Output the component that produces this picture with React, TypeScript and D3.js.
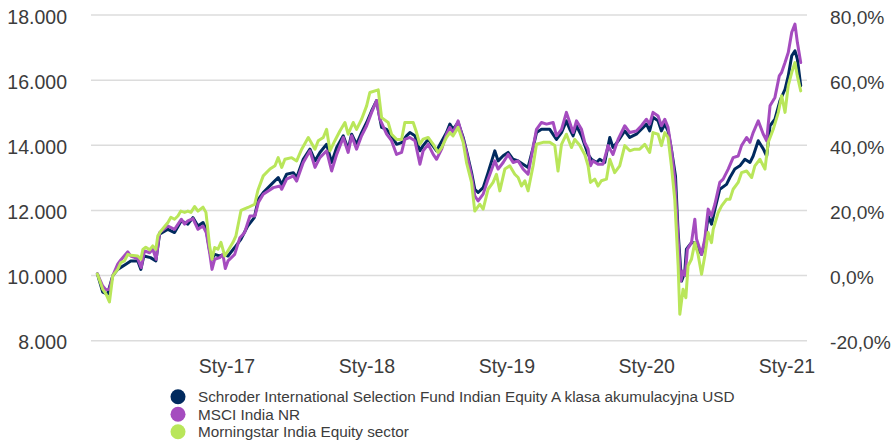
import React from "react";
import * as d3 from "d3";

// ---- data (decimal year, value of 10 000 invested) ----
const schroder: [number, number][] = [
  [2016.076, 10050], [2016.114, 9490], [2016.148, 9430], [2016.186, 10000], [2016.221, 10190],
  [2016.279, 10350], [2016.314, 10450], [2016.364, 10450], [2016.386, 10190], [2016.407, 10600],
  [2016.455, 10550], [2016.493, 10450], [2016.519, 11270], [2016.579, 11420], [2016.626, 11320],
  [2016.674, 11680], [2016.721, 11580], [2016.757, 11780], [2016.793, 11520], [2016.829, 11630],
  [2016.852, 11420], [2016.876, 10760], [2016.893, 10500], [2016.912, 10650], [2016.948, 10600],
  [2016.981, 10650], [2017.007, 10600], [2017.055, 10860], [2017.100, 11120], [2017.148, 11520],
  [2017.195, 11780], [2017.224, 12340], [2017.259, 12550], [2017.331, 12860], [2017.366, 13010],
  [2017.391, 12800], [2017.426, 13110], [2017.474, 13160], [2017.498, 13010], [2017.545, 13570],
  [2017.593, 13880], [2017.629, 13520], [2017.664, 13780], [2017.712, 14030], [2017.748, 13470],
  [2017.784, 13930], [2017.831, 14290], [2017.866, 13880], [2017.891, 14340], [2017.926, 14030],
  [2017.962, 14390], [2017.998, 14700], [2018.034, 15060], [2018.069, 15370], [2018.105, 14550],
  [2018.141, 14490], [2018.176, 14290], [2018.212, 14030], [2018.248, 14080], [2018.283, 14290],
  [2018.307, 14390], [2018.343, 14290], [2018.379, 13830], [2018.402, 13990], [2018.438, 14180],
  [2018.498, 13830], [2018.569, 14390], [2018.593, 14650], [2018.616, 14490], [2018.652, 14700],
  [2018.688, 14240], [2018.712, 13830], [2018.748, 13160], [2018.771, 12650], [2018.795, 12550],
  [2018.831, 12700], [2018.866, 13160], [2018.914, 13830], [2018.938, 13520], [2018.974, 13680],
  [2019.009, 13780], [2019.045, 13570], [2019.081, 13520], [2019.116, 13420], [2019.152, 13320],
  [2019.188, 13930], [2019.212, 14390], [2019.248, 14490], [2019.307, 14490], [2019.355, 14180],
  [2019.391, 14390], [2019.426, 14750], [2019.450, 14490], [2019.474, 14290], [2019.498, 14600],
  [2019.534, 14290], [2019.581, 13720], [2019.605, 13570], [2019.641, 13470], [2019.664, 13570],
  [2019.700, 13470], [2019.736, 14240], [2019.759, 13930], [2019.795, 14130], [2019.843, 14440],
  [2019.879, 14240], [2019.926, 14340], [2019.998, 14650], [2020.021, 14440], [2020.045, 14860],
  [2020.081, 14750], [2020.105, 14440], [2020.129, 14650], [2020.152, 14440], [2020.176, 13880],
  [2020.205, 13060], [2020.224, 11320], [2020.248, 9830], [2020.271, 10090], [2020.283, 10810],
  [2020.319, 11010], [2020.343, 11010], [2020.391, 10650], [2020.414, 11010], [2020.438, 11830],
  [2020.462, 11580], [2020.486, 12040], [2020.521, 12650], [2020.569, 12800], [2020.593, 13010],
  [2020.628, 13270], [2020.664, 13370], [2020.700, 13570], [2020.736, 13470], [2020.759, 13670],
  [2020.795, 14140], [2020.831, 13890], [2020.855, 13670], [2020.879, 14600], [2020.914, 14800],
  [2020.950, 15370], [2020.986, 15720], [2021.009, 16130], [2021.034, 16750], [2021.057, 16900],
  [2021.074, 16650], [2021.098, 15830],
];

const msci: [number, number][] = [
  [2016.076, 10050], [2016.114, 9680], [2016.138, 9560], [2016.162, 9580], [2016.186, 10000],
  [2016.221, 10350], [2016.243, 10480], [2016.293, 10730], [2016.314, 10600], [2016.364, 10520],
  [2016.388, 10245], [2016.412, 10760], [2016.448, 10700], [2016.471, 10810], [2016.495, 10500],
  [2016.519, 11320], [2016.579, 11520], [2016.626, 11420], [2016.674, 11730], [2016.698, 11580],
  [2016.721, 11680], [2016.757, 11750], [2016.793, 11420], [2016.829, 11520], [2016.852, 11320],
  [2016.876, 10710], [2016.893, 10190], [2016.912, 10500], [2016.948, 10550], [2016.971, 10650],
  [2016.988, 10215], [2017.007, 10450], [2017.055, 10650], [2017.091, 11150], [2017.126, 11320],
  [2017.164, 11830], [2017.200, 11830], [2017.224, 12240], [2017.259, 12500], [2017.331, 12700],
  [2017.379, 12750], [2017.391, 12650], [2017.426, 12960], [2017.474, 13060], [2017.498, 12900],
  [2017.545, 13470], [2017.593, 13830], [2017.629, 13320], [2017.664, 13620], [2017.712, 13830],
  [2017.748, 13210], [2017.784, 13720], [2017.831, 14240], [2017.866, 13780], [2017.891, 14290],
  [2017.926, 13880], [2017.962, 14290], [2017.998, 14600], [2018.034, 15010], [2018.069, 15370],
  [2018.093, 14800], [2018.141, 14340], [2018.176, 14140], [2018.212, 13720], [2018.248, 13780],
  [2018.271, 14180], [2018.307, 14240], [2018.343, 14140], [2018.379, 13420], [2018.402, 13830],
  [2018.438, 14030], [2018.474, 13720], [2018.498, 13570], [2018.534, 13880], [2018.569, 14340],
  [2018.593, 14550], [2018.616, 14390], [2018.652, 14750], [2018.688, 14180], [2018.712, 13780],
  [2018.748, 13060], [2018.771, 12450], [2018.795, 12290], [2018.831, 12500], [2018.866, 12960],
  [2018.914, 13520], [2018.938, 13270], [2018.974, 13470], [2019.009, 13720], [2019.045, 13470],
  [2019.081, 13520], [2019.116, 13270], [2019.152, 13110], [2019.188, 13930], [2019.212, 14490],
  [2019.248, 14700], [2019.284, 14650], [2019.331, 14700], [2019.355, 14290], [2019.391, 14490],
  [2019.426, 15010], [2019.450, 14700], [2019.474, 14390], [2019.498, 14750], [2019.534, 14490],
  [2019.557, 14090], [2019.581, 13880], [2019.598, 13370], [2019.616, 13520], [2019.652, 13420],
  [2019.688, 13420], [2019.724, 13990], [2019.759, 13720], [2019.795, 14180], [2019.843, 14600],
  [2019.879, 14390], [2019.926, 14440], [2019.962, 14600], [2019.998, 14800], [2020.021, 14650],
  [2020.045, 15010], [2020.081, 14900], [2020.105, 14600], [2020.129, 14800], [2020.152, 14550],
  [2020.176, 13880], [2020.200, 12960], [2020.224, 11120], [2020.243, 9830], [2020.259, 10140],
  [2020.274, 10000], [2020.290, 10810], [2020.319, 11010], [2020.343, 11730], [2020.355, 11120],
  [2020.391, 10650], [2020.414, 11120], [2020.438, 12040], [2020.462, 11830], [2020.486, 12190],
  [2020.521, 12860], [2020.545, 12960], [2020.581, 13270], [2020.616, 13620], [2020.652, 13670],
  [2020.676, 13990], [2020.712, 14240], [2020.736, 14090], [2020.759, 14390], [2020.795, 14750],
  [2020.831, 14340], [2020.855, 14140], [2020.879, 15210], [2020.914, 15470], [2020.945, 16130],
  [2020.962, 16240], [2020.986, 16540], [2021.009, 16850], [2021.034, 17470], [2021.057, 17720],
  [2021.074, 17160], [2021.098, 16540],
];

const morningstar: [number, number][] = [
  [2016.076, 10050], [2016.114, 9580], [2016.138, 9430], [2016.162, 9190], [2016.186, 10000],
  [2016.221, 10190], [2016.243, 10400], [2016.269, 10450], [2016.293, 10650], [2016.314, 10620],
  [2016.364, 10600], [2016.386, 10500], [2016.400, 10800], [2016.421, 10870], [2016.448, 10790],
  [2016.471, 10910], [2016.493, 10810], [2016.507, 11220], [2016.529, 11370], [2016.579, 11630],
  [2016.600, 11790], [2016.626, 11730], [2016.650, 11830], [2016.671, 11980], [2016.698, 11940],
  [2016.721, 11980], [2016.743, 11940], [2016.769, 12120], [2016.793, 11980], [2016.829, 12100],
  [2016.850, 11940], [2016.876, 10910], [2016.893, 10500], [2016.912, 10860], [2016.936, 10810],
  [2016.957, 11020], [2016.984, 10600], [2017.007, 10760], [2017.043, 11020], [2017.064, 11220],
  [2017.100, 12000], [2017.150, 12090], [2017.198, 12190], [2017.221, 12620], [2017.259, 13060],
  [2017.307, 13270], [2017.343, 13370], [2017.366, 13620], [2017.391, 13320], [2017.414, 13570],
  [2017.462, 13620], [2017.498, 13520], [2017.534, 13880], [2017.581, 14240], [2017.629, 13880],
  [2017.652, 14140], [2017.688, 14240], [2017.712, 14490], [2017.736, 13830], [2017.771, 14140],
  [2017.807, 14440], [2017.843, 14700], [2017.866, 14340], [2017.902, 14700], [2017.926, 14490],
  [2017.962, 14800], [2017.998, 15210], [2018.021, 15620], [2018.081, 15700], [2018.105, 14850],
  [2018.152, 14700], [2018.176, 14340], [2018.212, 14180], [2018.248, 14180], [2018.271, 14700],
  [2018.307, 14700], [2018.331, 14700], [2018.355, 14390], [2018.379, 14030], [2018.402, 14190],
  [2018.438, 14240], [2018.474, 14030], [2018.509, 13780], [2018.534, 13930], [2018.569, 14240],
  [2018.593, 14390], [2018.616, 14290], [2018.652, 14550], [2018.688, 14090], [2018.712, 13470],
  [2018.748, 12860], [2018.771, 11980], [2018.807, 12190], [2018.831, 12040], [2018.866, 12650],
  [2018.902, 12860], [2018.926, 13110], [2018.950, 12600], [2018.986, 13270], [2019.021, 13370],
  [2019.057, 13110], [2019.081, 13010], [2019.105, 12750], [2019.129, 12910], [2019.152, 12600],
  [2019.188, 13370], [2019.212, 14030], [2019.259, 14090], [2019.307, 14090], [2019.343, 13990],
  [2019.366, 13210], [2019.391, 14030], [2019.426, 14340], [2019.462, 13930], [2019.486, 14180],
  [2019.521, 14000], [2019.557, 13720], [2019.581, 13370], [2019.598, 12860], [2019.629, 12960],
  [2019.652, 12750], [2019.676, 12910], [2019.712, 12960], [2019.736, 13570], [2019.771, 13160],
  [2019.807, 13370], [2019.843, 13990], [2019.879, 13830], [2019.914, 13880], [2019.950, 13880],
  [2019.986, 14030], [2020.021, 13780], [2020.045, 14390], [2020.081, 14340], [2020.105, 13990],
  [2020.129, 14390], [2020.152, 14240], [2020.176, 13370], [2020.200, 12340], [2020.224, 10300],
  [2020.236, 8810], [2020.259, 9580], [2020.279, 9320], [2020.295, 10300], [2020.319, 10500],
  [2020.343, 11010], [2020.366, 10650], [2020.391, 10040], [2020.414, 10600], [2020.438, 11320],
  [2020.462, 11010], [2020.474, 11420], [2020.509, 11930], [2020.534, 12140], [2020.569, 12340],
  [2020.593, 12340], [2020.616, 12650], [2020.652, 12860], [2020.676, 13160], [2020.712, 13210],
  [2020.748, 13010], [2020.771, 13370], [2020.807, 13570], [2020.843, 13270], [2020.866, 14090],
  [2020.902, 14490], [2020.938, 15010], [2020.962, 15520], [2020.986, 15010], [2021.009, 15830],
  [2021.034, 16240], [2021.057, 16540], [2021.074, 16130], [2021.098, 15670],
];

const leftTicks = [8000, 10000, 12000, 14000, 16000, 18000];
const rightTicks = [-0.2, 0, 0.2, 0.4, 0.6, 0.8];
const xTickYears = [2017, 2018, 2019, 2020, 2021];
const xTickLabels = ["Sty-17", "Sty-18", "Sty-19", "Sty-20", "Sty-21"];
const seriesNames = [
  "Schroder International Selection Fund Indian Equity A klasa akumulacyjna USD",
  "MSCI India NR",
  "Morningstar India Equity sector",
];
const seriesColors = ["#002a5e", "#a54cbf", "#b9e65a"];

const W = 893;
const H = 444;

function yearToDate(t: number): Date {
  const y = Math.floor(t);
  const a = Date.UTC(y, 0, 1);
  const b = Date.UTC(y + 1, 0, 1);
  return new Date(a + (t - y) * (b - a));
}

const locale = d3.formatLocale({
  decimal: ",",
  thousands: ".",
  grouping: [3],
  currency: ["", " zł"],
  minus: "-",
});
const fmtLeft = locale.format(",.0f");
const fmtRight = locale.format(".1%");

export default function App() {
  const x = d3
    .scaleUtc()
    .domain([yearToDate(2017), yearToDate(2021)])
    .range([227, 787]);
  const y = d3.scaleLinear().domain([8000, 18000]).range([340.7, 15]);
  const yR = d3.scaleLinear().domain([-0.2, 0.8]).range([340.7, 15]);

  const line = d3
    .line<[number, number]>()
    .x((d) => x(yearToDate(d[0])))
    .y((d) => y(d[1]));

  const all = [schroder, msci, morningstar];
  const font = "'Liberation Sans', Arial, sans-serif";
  const textColor = "#3c3c3c";

  return (
    <svg
      width={W}
      height={H}
      style={{ position: "absolute", left: 0, top: 0, background: "#fff" }}
      fontFamily={font}
    >
      {leftTicks.map((t) => (
        <line key={"g" + t} x1={91} x2={807} y1={y(t)} y2={y(t)} stroke="#dcdcdc" strokeWidth={1.5} />
      ))}
      {leftTicks.map((t) => (
        <text key={"l" + t} x={67} y={y(t) + 8.5} textAnchor="end" fontSize={19.5} fill={textColor}>
          {fmtLeft(t)}
        </text>
      ))}
      {rightTicks.map((t) => (
        <text key={"r" + t} x={830} y={yR(t) + 8.5} textAnchor="start" fontSize={19.2} fill={textColor}>
          {fmtRight(t).replace("\u2212", "-")}
        </text>
      ))}
      {xTickYears.map((yr, i) => (
        <text key={"x" + yr} x={x(yearToDate(yr))} y={373} textAnchor="middle" fontSize={19.5} fill={textColor}>
          {xTickLabels[i]}
        </text>
      ))}
      {all.map((s, i) => (
        <path
          key={"s" + i}
          d={line(s) || ""}
          fill="none"
          stroke={seriesColors[i]}
          strokeWidth={3}
          strokeLinejoin="round"
          strokeLinecap="round"
        />
      ))}
      {seriesNames.map((n, i) => (
        <g key={"lg" + i} transform={`translate(178, ${396.7 + i * 17.5})`}>
          <circle r={7.5} fill={seriesColors[i]} />
          <text x={20} y={5.5} fontSize={15.3} fill={textColor}>
            {n}
          </text>
        </g>
      ))}
    </svg>
  );
}
